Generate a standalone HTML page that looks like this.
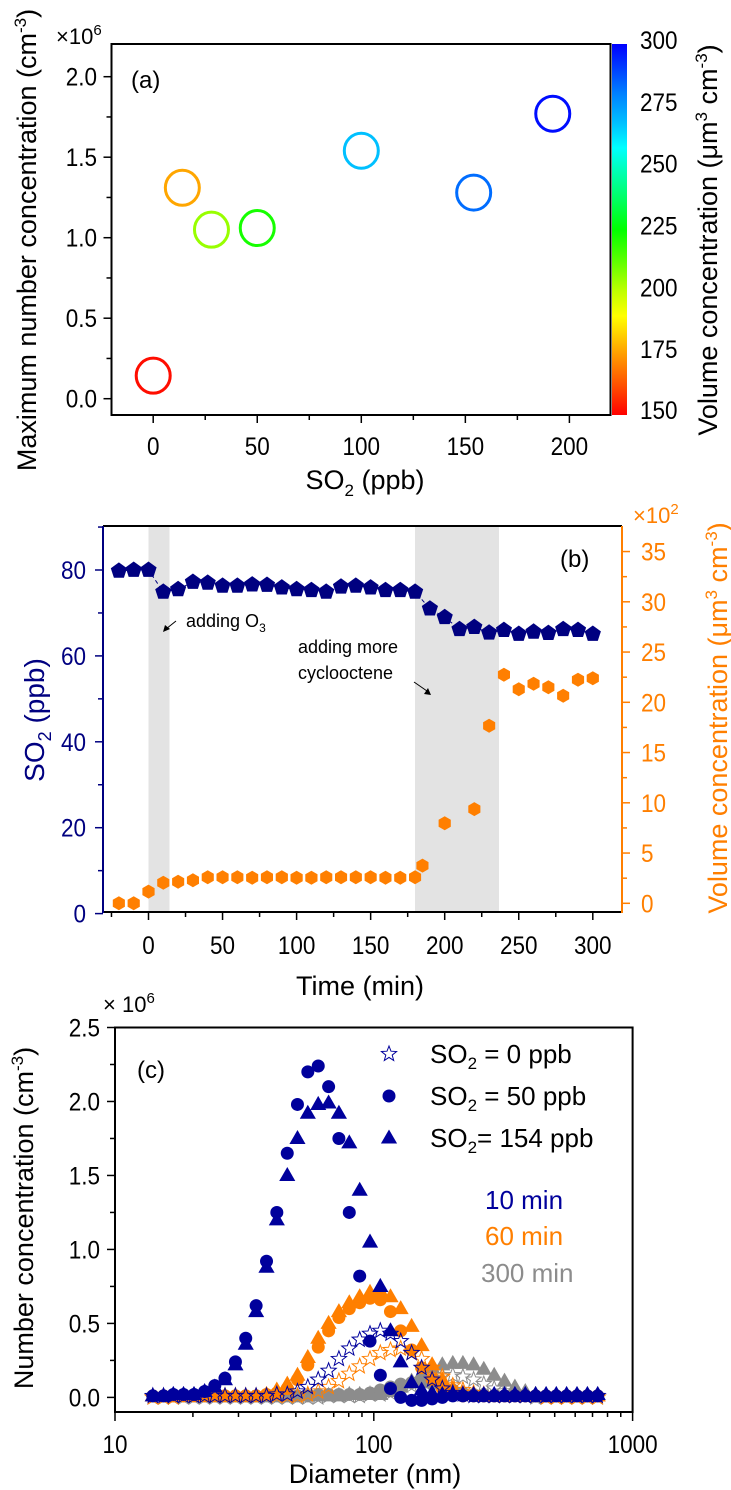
<!DOCTYPE html>
<html><head><meta charset="utf-8"><style>
html,body{margin:0;padding:0;background:#fff;}
svg{display:block;font-family:"Liberation Sans",Arial,sans-serif;}
</style></head><body>
<svg id="fig" xmlns="http://www.w3.org/2000/svg" width="731" height="1490" viewBox="0 0 731 1490">
<defs>
<linearGradient id="cmap" x1="0" y1="1" x2="0" y2="0">
<stop offset="0" stop-color="#ff0000"/><stop offset="0.08" stop-color="#ff5000"/><stop offset="0.167" stop-color="#ffa000"/><stop offset="0.233" stop-color="#ffe000"/><stop offset="0.267" stop-color="#ffff00"/><stop offset="0.333" stop-color="#c0ff00"/><stop offset="0.413" stop-color="#60ff00"/><stop offset="0.5" stop-color="#00ff00"/><stop offset="0.58" stop-color="#00ff60"/><stop offset="0.667" stop-color="#00ffc0"/><stop offset="0.72" stop-color="#00ffff"/><stop offset="0.787" stop-color="#00c0ff"/><stop offset="0.867" stop-color="#0080ff"/><stop offset="0.933" stop-color="#0040ff"/><stop offset="1" stop-color="#0000ff"/>
</linearGradient>
</defs>
<!-- Panel a static -->
<text x="131" y="88" font-size="24">(a)</text>
<text x="56" y="44" font-size="22">×10<tspan font-size="15" dy="-9">6</tspan></text>
<text transform="translate(36,240) rotate(-90)" text-anchor="middle" font-size="27">Maximum number concentration (cm<tspan font-size="17" dy="-10">-3</tspan><tspan dy="10">)</tspan></text>
<text x="365" y="489" text-anchor="middle" font-size="27">SO<tspan font-size="17" dy="7">2</tspan><tspan dy="-7"> (ppb)</tspan></text>
<rect x="612" y="44" width="15" height="371" fill="url(#cmap)"/>
<text transform="translate(717,240) rotate(-90)" text-anchor="middle" font-size="27">Volume  concentration (μm<tspan font-size="17" dy="-10">3</tspan><tspan dy="10"> cm</tspan><tspan font-size="17" dy="-10">-3</tspan><tspan dy="10">)</tspan></text>
<!-- Panel b static -->
<rect x="148.5" y="527" width="21" height="385" fill="#e3e3e3"/>
<rect x="415" y="527" width="84" height="385" fill="#e3e3e3"/>
<text x="560" y="567" font-size="24">(b)</text>
<text x="633" y="523" font-size="22" fill="#ff7f00">×10<tspan font-size="15" dy="-9">2</tspan></text>
<text transform="translate(44,720) rotate(-90)" text-anchor="middle" font-size="28" fill="#000080">SO<tspan font-size="18" dy="7">2</tspan><tspan dy="-7"> (ppb)</tspan></text>
<text transform="translate(727,718) rotate(-90)" text-anchor="middle" font-size="27" fill="#ff7f00">Volume concentration (μm<tspan font-size="17" dy="-10">3</tspan><tspan dy="10"> cm</tspan><tspan font-size="17" dy="-10">-3</tspan><tspan dy="10">)</tspan></text>
<text x="360" y="995" text-anchor="middle" font-size="27">Time (min)</text>
<text x="186" y="627" font-size="18">adding O<tspan font-size="12" dy="5">3</tspan></text>
<text x="298" y="653" font-size="18">adding more</text>
<text x="298" y="679" font-size="18">cyclooctene</text>
<line x1="176" y1="621" x2="166" y2="629" stroke="#000" stroke-width="1"/>
<polygon points="163,632 165,625 170,629" fill="#000"/>
<line x1="414" y1="682" x2="427" y2="691" stroke="#000" stroke-width="1"/>
<polygon points="431,695 424,694 428,688" fill="#000"/>
<!-- Panel c static -->
<text x="137" y="1078" font-size="24">(c)</text>
<text x="103" y="1012" font-size="22">× 10<tspan font-size="15" dy="-9">6</tspan></text>
<text transform="translate(33,1218) rotate(-90)" text-anchor="middle" font-size="27">Number concentration (cm<tspan font-size="17" dy="-10">-3</tspan><tspan dy="10">)</tspan></text>
<text x="375" y="1483" text-anchor="middle" font-size="27">Diameter (nm)</text>
<text x="430" y="1063" font-size="26">SO<tspan font-size="17" dy="6">2</tspan><tspan dy="-6"> = 0 ppb</tspan></text>
<text x="430" y="1105" font-size="26">SO<tspan font-size="17" dy="6">2</tspan><tspan dy="-6"> = 50 ppb</tspan></text>
<text x="430" y="1147" font-size="26">SO<tspan font-size="17" dy="6">2</tspan><tspan dy="-6">= 154 ppb</tspan></text>
<text x="485" y="1209" font-size="26" fill="#00009c">10 min</text>
<text x="485" y="1245" font-size="26" fill="#ff7f00">60 min</text>
<text x="481" y="1282" font-size="26" fill="#8c8c8c">300 min</text>
</svg>
<script>
// ---------- Panel a data ----------
const aSO2 = [0, 14, 28, 50, 100, 154, 192];
const aMaxNum = [0.143, 1.31, 1.05, 1.06, 1.54, 1.28, 1.77];
const aVolume = [152, 176, 205, 222, 268, 283, 298];
const aXTicks = [0, 50, 100, 150, 200];
const aYTicks = [0.0, 0.5, 1.0, 1.5, 2.0];
const cbTicks = [150, 175, 200, 225, 250, 275, 300];
// ---------- Panel b data ----------
const bTimeSO2 = [-20,-10,0,10,20,30,40,50,60,70,80,90,100,110,120,130,140,150,160,170,180,190,200,210,220,230,240,250,260,270,280,290,300];
const bSO2 = [79.8,80.0,80.0,74.9,75.5,77.2,77.0,76.3,76.3,76.6,76.5,75.9,75.5,75.3,74.9,76.1,76.3,75.9,75.3,75.3,74.9,71.0,69.0,66.2,66.7,65.4,66.0,65.1,65.6,65.3,66.2,66.0,65.1];
const bTimeVol = [-20,-10,0,10,20,30,40,50,60,70,80,90,100,110,120,130,140,150,160,170,180,185,200,220,230,240,250,260,270,280,290,300];
const bVol = [0,0,1.16,2.05,2.15,2.3,2.6,2.6,2.6,2.55,2.6,2.6,2.55,2.55,2.6,2.6,2.6,2.6,2.55,2.55,2.6,3.75,7.97,9.37,17.67,22.75,21.3,21.85,21.5,20.65,22.25,22.4];
const bXTicks = [0,50,100,150,200,250,300];
const bLeftTicks = [0,20,40,60,80];
const bRightTicks = [0,5,10,15,20,25,30,35];
// ---------- Panel c data ----------
const cDiam = [14.0,15.4,16.8,18.4,20.2,22.2,24.3,26.6,29.2,32.0,35.1,38.5,42.2,46.3,50.7,55.6,61.0,66.9,73.3,80.4,88.2,96.7,106,116,127,140,153,168,184,202,221,243,266,292,320,351,385,422,463,507,556,610,669,733];
const cBlueStar =  [0.01,0.01,0.01,0.01,0.01,0.01,0.01,0.01,0.01,0.01,0.01,0.01,0.02,0.02,0.04,0.07,0.12,0.18,0.26,0.33,0.39,0.43,0.45,0.43,0.38,0.30,0.20,0.12,0.06,0.03,0.02,0.01,0.01,0.01,0.01,0.01,0.01,0.01,0.01,0.01,0.01,0.01,0.01,0.01];
const cBlueCircle = [0.01,0.01,0.02,0.02,0.02,0.04,0.08,0.13,0.24,0.40,0.62,0.92,1.25,1.65,1.98,2.20,2.24,2.10,1.75,1.25,0.82,0.38,0.15,0.06,0.00,-0.02,-0.02,-0.01,0.00,0.01,0.01,0.01,0.01,0.01,0.01,0.01,0.01,0.01,0.01,0.01,0.01,0.01,0.01,0.01];
const cBlueTri =   [0.01,0.01,0.02,0.02,0.02,0.04,0.07,0.12,0.22,0.36,0.58,0.88,1.20,1.50,1.75,1.92,1.98,1.99,1.92,1.72,1.40,1.05,0.75,0.45,0.24,0.10,0.05,0.03,0.02,0.02,0.02,0.02,0.02,0.02,0.02,0.02,0.02,0.02,0.02,0.02,0.02,0.02,0.02,0.02];
const cOrStar =    [0.0,0.0,0.0,0.01,0.01,0.01,0.01,0.01,0.01,0.01,0.01,0.01,0.01,0.01,0.01,0.02,0.04,0.07,0.11,0.16,0.21,0.26,0.30,0.32,0.33,0.30,0.26,0.20,0.14,0.08,0.05,0.03,0.02,0.01,0.01,0.01,0.01,0.01,0.0,0.0,0.0,0.0,0.0,0.0];
const cOrCircle =  [0.01,0.01,0.01,0.01,0.01,0.01,0.01,0.01,0.01,0.01,0.01,0.02,0.03,0.06,0.12,0.22,0.34,0.45,0.54,0.60,0.64,0.67,0.66,0.58,0.45,0.32,0.20,0.12,0.06,0.03,0.01,0.01,0.01,0.01,0.01,0.01,0.01,0.01,0.01,0.01,0.01,0.01,0.01,0.01];
const cOrTri =     [0.01,0.01,0.01,0.01,0.01,0.01,0.01,0.01,0.01,0.01,0.01,0.02,0.05,0.09,0.15,0.27,0.40,0.50,0.58,0.64,0.68,0.71,0.72,0.68,0.60,0.48,0.35,0.22,0.12,0.06,0.03,0.02,0.01,0.01,0.01,0.01,0.01,0.01,0.01,0.01,0.01,0.01,0.01,0.01];
const cGrStar =    [0.0,0.0,0.0,0.0,0.0,0.0,0.0,0.0,0.0,0.0,0.0,0.0,0.0,0.0,0.0,0.0,0.0,0.01,0.01,0.01,0.01,0.02,0.02,0.03,0.05,0.08,0.11,0.13,0.15,0.15,0.14,0.12,0.09,0.06,0.04,0.02,0.01,0.0,0.0,0.0,0.0,0.0,0.0,0.0];
const cGrCircle =  [0.01,0.01,0.01,0.01,0.01,0.01,0.01,0.01,0.01,0.01,0.01,0.01,0.01,0.01,0.01,0.01,0.02,0.02,0.02,0.02,0.02,0.03,0.05,0.07,0.09,0.10,0.10,0.09,0.07,0.05,0.03,0.02,0.01,0.01,0.01,0.01,0.01,0.01,0.01,0.01,0.01,0.01,0.01,0.01];
const cGrTri =     [0.01,0.01,0.01,0.01,0.01,0.01,0.01,0.01,0.01,0.01,0.01,0.01,0.01,0.01,0.01,0.01,0.01,0.01,0.01,0.02,0.02,0.02,0.02,0.04,0.07,0.11,0.16,0.20,0.22,0.23,0.23,0.22,0.19,0.15,0.11,0.07,0.04,0.02,0.01,0.01,0.01,0.01,0.01,0.01];
const cXTicks = [10, 100, 1000];
const cYTicks = [0.0, 0.5, 1.0, 1.5, 2.0, 2.5];

const NS = 'http://www.w3.org/2000/svg';
const svg = document.getElementById('fig');
function mk(tag, attrs) {
  const e = document.createElementNS(NS, tag);
  for (const k in attrs) e.setAttribute(k, attrs[k]);
  svg.appendChild(e);
  return e;
}
function line(x1,y1,x2,y2,color,w,name){
  const l = mk('line',{x1:x1,y1:y1,x2:x2,y2:y2,stroke:color,'stroke-width':w});
  
  
  return l;
}
function label(x,y,txt,anchor,size,color,name){
  const t = mk('text',{x:0,y:0,transform:'translate('+x+','+y+') scale(0.9,1)','text-anchor':anchor,'font-size':size,fill:color});
  t.textContent = txt;
  
  
  return t;
}
const TS = 25;

// ===== Panel a =====
const axX = v => 153.2 + v * 2.081;
const axY = v => 398.7 - v * 161;
const cmStops = [[150,[255,0,0]],[162,[255,80,0]],[175,[255,160,0]],[185,[255,224,0]],[190,[255,255,0]],[200,[192,255,0]],[212,[96,255,0]],[225,[0,255,0]],[237,[0,255,96]],[250,[0,255,192]],[258,[0,255,255]],[268,[0,192,255]],[280,[0,128,255]],[290,[0,64,255]],[300,[0,0,255]]];
function cmap(v){
  for (let i=0;i<cmStops.length-1;i++){
    const a=cmStops[i], b=cmStops[i+1];
    if (v<=b[0]){ const f=Math.max(0,(v-a[0])/(b[0]-a[0])); const c=a[1].map((x,j)=>Math.round(x+(b[1][j]-x)*f)); return 'rgb('+c.join(',')+')'; }
  }
  return 'rgb(0,0,255)';
}
{
  const fr = mk('rect',{x:111.5,y:44,width:499,height:371,fill:'none',stroke:'#000','stroke-width':2});
  
  
  for (let v=-25; v<=225; v+=25){ const x=axX(v); if (x<112||x>610) continue; line(x,415,x,415+(v%50===0?8:5),'#000',1.5,'panel-a-x-tick'); }
  aXTicks.forEach(v=>label(axX(v),455,String(v),'middle',TS,'#000','panel-a-x-tick-label'));
  for (let v=0; v<=2.25; v+=0.25){ const y=axY(v); if (y<45) continue; line(111.5,y,111.5-((Math.round(v*4)%2===0)?8:5),y,'#000',1.5,'panel-a-y-tick'); }
  aYTicks.forEach(v=>label(97,axY(v)+9,v.toFixed(1),'end',TS,'#000','panel-a-y-tick-label'));
  const cbY = v => 411 - (v-150)/150*371;
  cbTicks.forEach(v=>label(640,Math.min(cbY(v)+9,419),String(v),'start',TS,'#000','colorbar-tick-label'));
  aSO2.forEach((s,i)=>{
    const c = mk('ellipse',{cx:axX(s),cy:axY(aMaxNum[i]),rx:17,ry:17.5,fill:'none',stroke:cmap(aVolume[i]),'stroke-width':3});
    
    
  });
}

// ===== Panel b =====
const bX = t => 148.5 + t * 1.481;
const bYL = v => 913.6 - v * 4.295;
const bYR = v => 903.3 - v * 10.05;
{
  line(103,526,622,526,'#000',2,'panel-b-top-axis');
  line(103,912,622,912,'#000',2,'panel-b-x-axis');
  line(103,526,103,913,'#000080',2,'panel-b-left-axis');
  line(622,526,622,913,'#ff7f00',2,'panel-b-right-axis');
  for (let t=-25; t<=325; t+=25){ const x=bX(t); if (x<104||x>621) continue; line(x,912,x,912+(t%50===0?8:5),'#000',1.5,'panel-b-x-tick'); }
  bXTicks.forEach(v=>label(bX(v),954,String(v),'middle',TS,'#000','panel-b-x-tick-label'));
  for (let v=0; v<=90; v+=10){ line(103,bYL(v),103-(v%20===0?8:5),bYL(v),'#000080',1.5,'panel-b-left-tick'); }
  bLeftTicks.forEach(v=>label(86,bYL(v)+9,String(v),'end',TS,'#000080','panel-b-left-tick-label'));
  for (let v=0; v<=37.5; v+=2.5){ const y=bYR(v); if (y<527) continue; line(622,y,622+(v%5===0?8:5),y,'#ff7f00',1.5,'panel-b-right-tick'); }
  bRightTicks.forEach(v=>label(641,bYR(v)+9,String(v),'start',TS,'#ff7f00','panel-b-right-tick-label'));
  const pts = bTimeSO2.map((t,i)=>bX(t)+','+bYL(bSO2[i])).join(' ');
  const pl = mk('polyline',{points:pts,fill:'none',stroke:'#000080','stroke-width':1,'stroke-dasharray':'4,3'});
  
  
  bTimeVol.forEach((t,i)=>{
    const cx=bX(t), cy=bYR(bVol[i]), r=7; let p=[];
    for (let k=0;k<6;k++){ const a=Math.PI/2+k*Math.PI/3; p.push((cx+r*Math.cos(a)).toFixed(1)+','+(cy-r*Math.sin(a)).toFixed(1)); }
    const h = mk('polygon',{points:p.join(' '),fill:'#ff7f00'});
    
    
  });
  bTimeSO2.forEach((t,i)=>{
    const cx=bX(t), cy=bYL(bSO2[i]), r=8.5; let p=[];
    for (let k=0;k<5;k++){ const a=Math.PI/2+k*2*Math.PI/5; p.push((cx+r*Math.cos(a)).toFixed(1)+','+(cy-r*Math.sin(a)).toFixed(1)); }
    const g = mk('polygon',{points:p.join(' '),fill:'#000080'});
    
    
  });
}

// ===== Panel c =====
const cX = d => 115 + (Math.log10(d) - 1) * 258.8;
const cY = v => 1397.4 - v * 147.96;
function starPts(cx,cy,ro,ri){ let p=[]; for(let k=0;k<10;k++){ const r=k%2?ri:ro; const a=Math.PI/2+k*Math.PI/5; p.push((cx+r*Math.cos(a)).toFixed(1)+','+(cy-r*Math.sin(a)).toFixed(1)); } return p.join(' '); }
function triPts(cx,cy,r){ return [[cx,cy-r],[cx-r*0.95,cy+r*0.65],[cx+r*0.95,cy+r*0.65]].map(p=>p[0].toFixed(1)+','+p[1].toFixed(1)).join(' '); }
function marker(shape,cx,cy,color,name){
  let e;
  if (shape==='star') e = mk('polygon',{points:starPts(cx,cy,8,3.4),fill:'none',stroke:color,'stroke-width':1});
  else if (shape==='circle') e = mk('circle',{cx:cx,cy:cy,r:6.5,fill:color});
  else e = mk('polygon',{points:triPts(cx,cy,8.5),fill:color});
  
  
}
{
  const fr = mk('rect',{x:115,y:1027.5,width:517.6,height:384.5,fill:'none',stroke:'#000','stroke-width':2});
  
  
  for (let dec=10; dec<=1000; dec*=10){
    for (let m=1;m<=9;m++){ const d=dec*m; if (d>1000) break; line(cX(d),1412,cX(d),1412+(m===1?9:5),'#000',1.5,'panel-c-x-tick'); }
  }
  cXTicks.forEach(v=>label(cX(v),1453,String(v),'middle',TS,'#000','panel-c-x-tick-label'));
  for (let v=0; v<=2.5; v+=0.25){ line(115,cY(v),115-((Math.round(v*4)%2===0)?8:5),cY(v),'#000',1.5,'panel-c-y-tick'); }
  cYTicks.forEach(v=>label(100,cY(v)+9,v.toFixed(1),'end',TS,'#000','panel-c-y-tick-label'));
  const series = [
    [cGrCircle,'circle','#8c8c8c','gray-50ppb-300min'],
    [cGrStar,'star','#8c8c8c','gray-0ppb-300min'],
    [cGrTri,'tri','#8c8c8c','gray-154ppb-300min'],
    [cOrCircle,'circle','#ff7f00','orange-50ppb-60min'],
    [cOrTri,'tri','#ff7f00','orange-154ppb-60min'],
    [cOrStar,'star','#ff7f00','orange-0ppb-60min'],
    [cBlueCircle,'circle','#00009c','blue-50ppb-10min'],
    [cBlueTri,'tri','#00009c','blue-154ppb-10min'],
    [cBlueStar,'star','#00009c','blue-0ppb-10min']
  ];
  series.forEach(s=>{ s[0].forEach((v,i)=>marker(s[1],cX(cDiam[i]),cY(v),s[2],s[3])); });
  marker('star',389,1054,'#00009c','legend-star-symbol');
  marker('circle',389,1096,'#00009c','legend-circle-symbol');
  marker('tri',389,1138,'#00009c','legend-triangle-symbol');
}
</script>
</body></html>
